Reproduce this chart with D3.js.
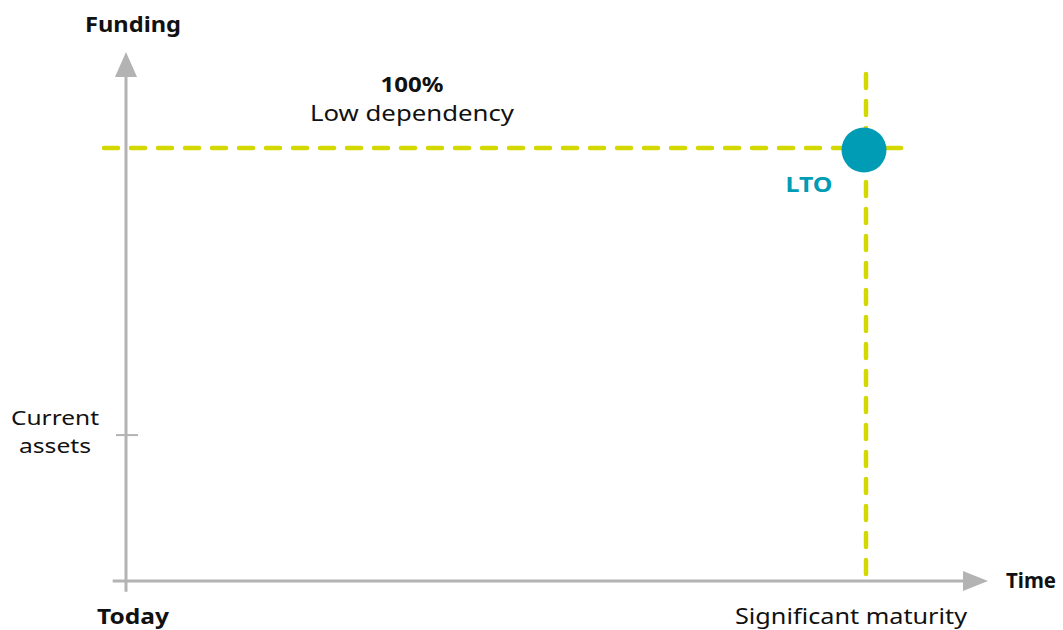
<!DOCTYPE html>
<html><head><meta charset="utf-8">
<script src="https://cdn.jsdelivr.net/npm/d3@7"></script>
<style>body{margin:0;background:#fff}svg{display:block}text{font-family:"Noto Sans","Open Sans",sans-serif}</style>
</head><body><svg id="c" width="1063" height="630"></svg>
<script>
// Data
const yTickValues = [33.7];
const yTickLabels = [["Current", "assets"]];
const xLabels = [{v: 0, text: "Today", bold: true}, {v: 100, text: "Significant maturity", bold: false}];
const pointNames = ["LTO"];
const pointX = [100];   // time: significant maturity
const pointY = [100];   // funding: 100%
const axisTitles = ["Funding", "Time"];
const levelLabels = ["100%", "Low dependency"];

const svg = d3.select("#c");
const x = d3.scaleLinear().domain([0, 100]).range([126, 866]);
const y = d3.scaleLinear().domain([0, 100]).range([581, 148]);

const grey = "#b3b3b3", lime = "#d3d800", teal = "#009bb5", ink = "#111";

function txt(xp, yp, s, size, bold, color, len, anchor) {
  const t = svg.append("text").attr("x", xp).attr("y", yp).attr("font-size", size)
    .attr("font-weight", bold ? "bold" : "normal").attr("fill", color || ink)
    .attr("text-anchor", anchor || "start").text(s);
  if (len) t.attr("textLength", len).attr("lengthAdjust", "spacingAndGlyphs");
  return t;
}

// Y axis
svg.append("line").attr("x1", x(0)).attr("x2", x(0)).attr("y1", y(-2.5)).attr("y2", 70)
  .attr("stroke", grey).attr("stroke-width", 3);
svg.append("path").attr("d", `M${x(0)},52 L${x(0)-11},77 L${x(0)+11},77 Z`).attr("fill", grey);
// X axis
svg.append("line").attr("x1", x(-1.8)).attr("x2", 970).attr("y1", y(0)).attr("y2", y(0))
  .attr("stroke", grey).attr("stroke-width", 3);
svg.append("path").attr("d", `M988,${y(0)} L963,${y(0)-10} L963,${y(0)+10} Z`).attr("fill", grey);

// y tick
svg.selectAll(".yt").data(yTickValues).enter().append("line")
  .attr("x1", x(0)-10).attr("x2", x(0)+12).attr("y1", d => y(d)).attr("y2", d => y(d))
  .attr("stroke", grey).attr("stroke-width", 2);
const tickLens = [[88, 72]];
yTickLabels.forEach((lines, i) => {
  lines.forEach((l, j) => txt(55, y(yTickValues[i]) - 10 + j * 28, l, 20, false, ink, tickLens[i][j], "middle"));
});

// dashed reference lines
pointX.forEach((px, i) => {
  svg.append("line").attr("x1", 104).attr("x2", 912).attr("y1", y(pointY[i])).attr("y2", y(pointY[i]))
    .attr("stroke", lime).attr("stroke-width", 4.5).attr("stroke-linecap", "round").attr("stroke-dasharray", "14 13");
  svg.append("line").attr("x1", x(px)).attr("x2", x(px)).attr("y1", 74).attr("y2", y(0))
    .attr("stroke", lime).attr("stroke-width", 4.5).attr("stroke-linecap", "round").attr("stroke-dasharray", "14 13");
  svg.append("circle").attr("cx", x(px) - 2).attr("cy", y(pointY[i]) + 2).attr("r", 22.5).attr("fill", teal);
  txt(x(px) - 57, y(pointY[i]) + 44, pointNames[i], 21, true, teal, 47, "middle");
});

// level labels
txt(412, 92, levelLabels[0], 21, true, ink, 63, "middle");
txt(412, 121, levelLabels[1], 22, false, ink, 204, "middle");

// axis titles
txt(85, 32, axisTitles[0], 22, true, ink, 96);
txt(1006, 588, axisTitles[1], 22, true, ink, 50);

// x labels
const xLens = [72, 232];
xLabels.forEach((d, i) => txt(i === 0 ? 133 : 851, 624, d.text, 22, d.bold, ink, xLens[i], "middle"));
</script></body></html>
